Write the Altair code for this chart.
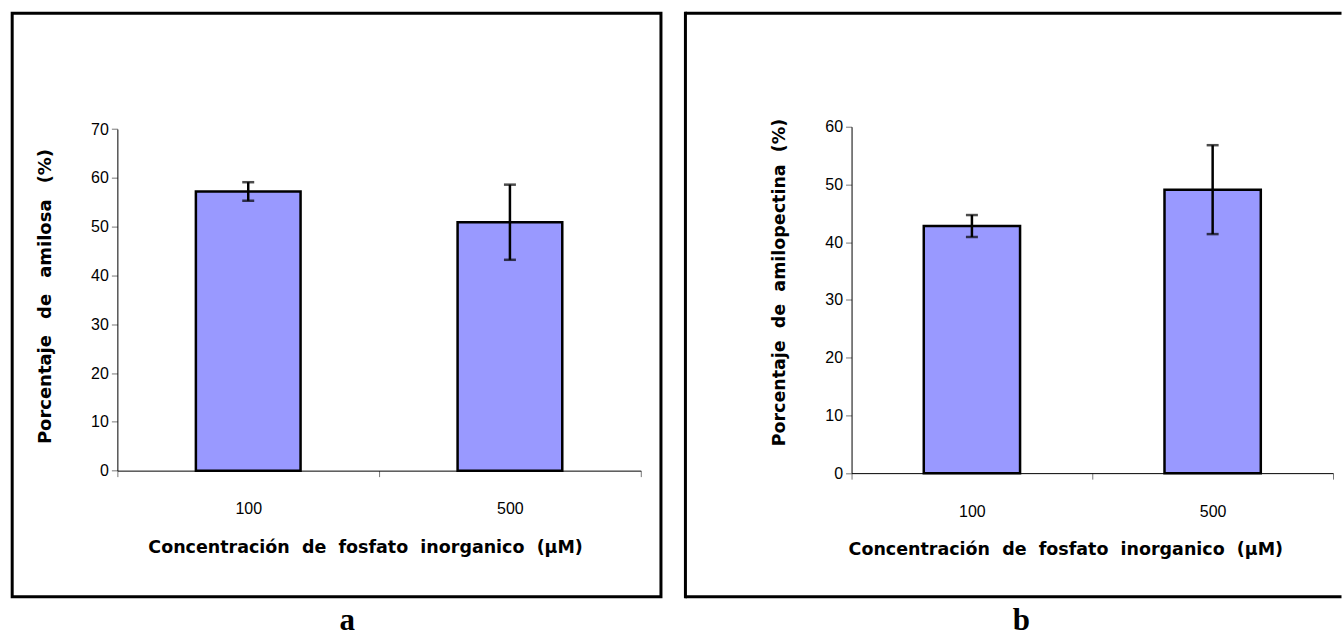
import altair as alt
import pandas as pd

# ---- data ----
categories = ["100", "500"]
amilosa = [57.2, 50.9]
amilosa_err = [1.9, 7.7]
amilopectina = [42.8, 49.1]
amilopectina_err = [1.9, 7.7]
panel_labels = ["a", "b"]
y_titles = ["Porcentaje  de  amilosa  (%)", "Porcentaje  de  amilopectina  (%)"]
x_title = "Concentración  de  fosfato  inorganico  (µM)"
y_max = [70, 60]

FONT = "Liberation Sans"
TITLE_FONT = "DejaVu Sans"
BAR_FILL = "#9999FF"


def wide(s, gap=" \u00a0"):
    return s.replace("  ", gap)


def panel(values, errs, ytitle, ymax, w, h, yrange, frame, ytitle_xy, xtitle_xy,
          label, label_xy, ygap=" \u00a0", yfont=17.5, open_right=False):
    n = len(categories)
    df = pd.DataFrame({
        "cat": categories,
        "pos": [i + 0.5 for i in range(n)],
        "val": values,
        "err": errs,
    })
    ticks_x = []
    for i in range(n):
        ticks_x += [i, i + 0.5]
    ticks_x.append(n)
    expr = "''"
    for i, c in reversed(list(enumerate(categories))):
        expr = f"datum.value == {i + 0.5} ? '{c}' : {expr}"

    xscale = alt.Scale(domain=[0, n], nice=False, zero=False)
    yscale = alt.Scale(domain=[0, ymax], nice=False, range=yrange)

    xaxis = alt.Axis(
        values=ticks_x, labelExpr=expr, grid=False, title=wide(x_title),
        tickSize=6, tickColor="#777777", tickWidth=1,
        tickOpacity={"condition": {"test": "datum.value % 1 != 0", "value": 0}, "value": 1},
        domainColor="black", domainWidth=1,
        labelFont=FONT, labelFontSize=16, labelColor="black", labelPadding=24,
        labelOverlap=False, labelFlush=False,
        titleFont=TITLE_FONT, titleFontSize=17.5, titleFontWeight="bold", titleColor="black",
        titleX=xtitle_xy[0], titleY=xtitle_xy[1], titleAlign="center", titleBaseline="middle",
    )
    yaxis = alt.Axis(
        values=list(range(0, ymax + 1, 10)), grid=False, title=wide(ytitle, ygap),
        tickSize=6, tickColor="#777777", tickWidth=1,
        domainColor="black", domainWidth=1,
        labelFont=FONT, labelFontSize=16, labelColor="black", labelPadding=3,
        titleFont=TITLE_FONT, titleFontSize=yfont, titleFontWeight="bold", titleColor="black",
        titleX=ytitle_xy[0], titleY=ytitle_xy[1], titleAngle=270,
        titleAlign="center", titleBaseline="middle",
    )

    one = alt.Data(values=[{"k": 0}])
    fx0, fx1, fy0, fy1 = frame
    if open_right:
        frame_layers = [
            alt.Chart(one).mark_rule(color="black", strokeWidth=3).encode(
                x=alt.value(fx0), x2=alt.value(fx1), y=alt.value(fy0)),
            alt.Chart(one).mark_rule(color="black", strokeWidth=3).encode(
                x=alt.value(fx0), x2=alt.value(fx1), y=alt.value(fy1)),
            alt.Chart(one).mark_rule(color="black", strokeWidth=3, strokeCap="square").encode(
                x=alt.value(fx0), y=alt.value(fy0), y2=alt.value(fy1)),
        ]
    else:
        frame_layers = [
            alt.Chart(one).mark_rect(fill=None, fillOpacity=0, stroke="black", strokeWidth=3).encode(
                x=alt.value(fx0), x2=alt.value(fx1), y=alt.value(fy0), y2=alt.value(fy1)),
        ]

    base = alt.Chart(df).properties(width=w, height=h)
    bars = base.transform_calculate(
        x0="datum.pos - 0.2", x1="datum.pos + 0.2"
    ).mark_bar(fill=BAR_FILL, stroke="black", strokeWidth=2.5).encode(
        x=alt.X("x0:Q", scale=xscale, axis=xaxis),
        x2="x1:Q",
        y=alt.Y("val:Q", scale=yscale, axis=yaxis),
        y2=alt.datum(0),
    )
    err = base.transform_calculate(
        lo="datum.val - datum.err", hi="datum.val + datum.err"
    )
    stem = err.mark_rule(color="black", strokeWidth=2.5).encode(
        x=alt.X("pos:Q", scale=xscale), y="lo:Q", y2="hi:Q")
    cap_lo = err.mark_tick(color="black", orient="horizontal", size=12, thickness=2.5).encode(
        x=alt.X("pos:Q", scale=xscale), y="lo:Q")
    cap_hi = err.mark_tick(color="black", orient="horizontal", size=12, thickness=2.5).encode(
        x=alt.X("pos:Q", scale=xscale), y="hi:Q")
    lab = alt.Chart(one).mark_text(
        text=label, font="Liberation Serif", fontWeight="bold", fontSize=31,
        color="black", align="center", baseline="middle",
    ).encode(x=alt.value(label_xy[0]), y=alt.value(label_xy[1]))

    return alt.layer(*frame_layers, bars, stem, cap_lo, cap_hi, lab).properties(width=w, height=h)


pa = panel(amilosa, amilosa_err, y_titles[0], y_max[0], 524, 344.3, [344.3, 2.3],
           frame=(-105.3, 544.2, -113.5, 470.5),
           ytitle_xy=(-72, 169.5), xtitle_xy=(248, 77),
           label=panel_labels[0], label_xy=(230, 494.5), ygap=" \u00a0\u2009", yfont=18)
pb = panel(amilopectina, amilopectina_err, y_titles[1], y_max[1], 482, 346.8, [346.8, 0],
           frame=(-166.3, 490.5, -113.5, 470.5),
           ytitle_xy=(-72, 155.5), xtitle_xy=(214, 76),
           label=panel_labels[1], label_xy=(170, 494.5), open_right=True)

chart = alt.hconcat(pa, pb, spacing=20).properties(
    padding={"left": 10.5, "top": 10.5, "right": 0, "bottom": 0},
    background="white",
).configure_view(stroke=None)

chart.save("out.html", embed_options={"renderer": "svg", "actions": False})
